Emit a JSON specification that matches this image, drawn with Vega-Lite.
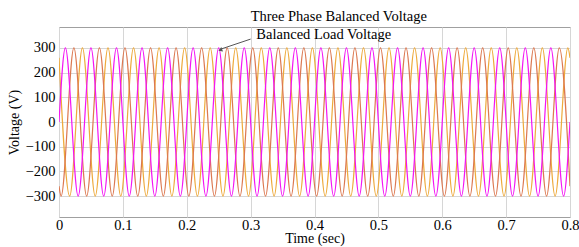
{
"$schema":"https://vega.github.io/schema/vega-lite/v6.json",
"width":511,"height":190,
"autosize":"none",
"padding":{"left":59,"top":27,"right":9,"bottom":30},
"config":{"font":"Liberation Serif","view":{"stroke":"#a0a0a0","strokeWidth":1},
"axis":{"grid":true,"gridColor":"#d6d6d6","domain":false,"ticks":false,"labelOverlap":false,"labelFont":"Liberation Serif","labelFontSize":14.5,"labelColor":"#000","titleFont":"Liberation Serif","titleFontSize":14,"titleFontWeight":"normal","titleColor":"#000"}},
"encoding":{
"x":{"field":"t","type":"quantitative","scale":{"domain":[0,0.8],"nice":false},"axis":{"values":[0,0.1,0.2,0.3,0.4,0.5,0.6,0.7,0.8],"format":".1~f","labelFlush":false,"labelOverlap":false,"labelPadding":1,"title":"Time (sec)","titlePadding":0}},
"y":{"field":"v","type":"quantitative","scale":{"domain":[-385,385],"nice":false,"zero":false},"axis":{"values":[-300,-200,-100,0,100,200,300],"labelOverlap":false,"labelFlush":false,"labelPadding":4,"title":"Voltage (V)","titlePadding":4}}
},
"layer":[
{"data":{"values":[
{"s":"a","t":0,"v":260},{"s":"a","t":0.0167,"v":-300},{"s":"a","t":0.0367,"v":300},{"s":"a","t":0.0567,"v":-300},{"s":"a","t":0.0767,"v":300},{"s":"a","t":0.0967,"v":-300},{"s":"a","t":0.1167,"v":300},{"s":"a","t":0.1367,"v":-300},{"s":"a","t":0.1567,"v":300},{"s":"a","t":0.1767,"v":-300},{"s":"a","t":0.1967,"v":300},{"s":"a","t":0.2167,"v":-300},{"s":"a","t":0.2367,"v":300},{"s":"a","t":0.2567,"v":-300},{"s":"a","t":0.2767,"v":300},{"s":"a","t":0.2967,"v":-300},{"s":"a","t":0.3167,"v":300},{"s":"a","t":0.3367,"v":-300},{"s":"a","t":0.3567,"v":300},{"s":"a","t":0.3767,"v":-300},{"s":"a","t":0.3967,"v":300},{"s":"a","t":0.4167,"v":-300},{"s":"a","t":0.4367,"v":300},{"s":"a","t":0.4567,"v":-300},{"s":"a","t":0.4767,"v":300},{"s":"a","t":0.4967,"v":-300},{"s":"a","t":0.5167,"v":300},{"s":"a","t":0.5367,"v":-300},{"s":"a","t":0.5567,"v":300},{"s":"a","t":0.5767,"v":-300},{"s":"a","t":0.5967,"v":300},{"s":"a","t":0.6167,"v":-300},{"s":"a","t":0.6367,"v":300},{"s":"a","t":0.6567,"v":-300},{"s":"a","t":0.6767,"v":300},{"s":"a","t":0.6967,"v":-300},{"s":"a","t":0.7167,"v":300},{"s":"a","t":0.7367,"v":-300},{"s":"a","t":0.7567,"v":300},{"s":"a","t":0.7767,"v":-300},{"s":"a","t":0.7967,"v":300},{"s":"a","t":0.8,"v":260},
{"s":"b","t":0,"v":-260},{"s":"b","t":0.0033,"v":-300},{"s":"b","t":0.0233,"v":300},{"s":"b","t":0.0433,"v":-300},{"s":"b","t":0.0633,"v":300},{"s":"b","t":0.0833,"v":-300},{"s":"b","t":0.1033,"v":300},{"s":"b","t":0.1233,"v":-300},{"s":"b","t":0.1433,"v":300},{"s":"b","t":0.1633,"v":-300},{"s":"b","t":0.1833,"v":300},{"s":"b","t":0.2033,"v":-300},{"s":"b","t":0.2233,"v":300},{"s":"b","t":0.2433,"v":-300},{"s":"b","t":0.2633,"v":300},{"s":"b","t":0.2833,"v":-300},{"s":"b","t":0.3033,"v":300},{"s":"b","t":0.3233,"v":-300},{"s":"b","t":0.3433,"v":300},{"s":"b","t":0.3633,"v":-300},{"s":"b","t":0.3833,"v":300},{"s":"b","t":0.4033,"v":-300},{"s":"b","t":0.4233,"v":300},{"s":"b","t":0.4433,"v":-300},{"s":"b","t":0.4633,"v":300},{"s":"b","t":0.4833,"v":-300},{"s":"b","t":0.5033,"v":300},{"s":"b","t":0.5233,"v":-300},{"s":"b","t":0.5433,"v":300},{"s":"b","t":0.5633,"v":-300},{"s":"b","t":0.5833,"v":300},{"s":"b","t":0.6033,"v":-300},{"s":"b","t":0.6233,"v":300},{"s":"b","t":0.6433,"v":-300},{"s":"b","t":0.6633,"v":300},{"s":"b","t":0.6833,"v":-300},{"s":"b","t":0.7033,"v":300},{"s":"b","t":0.7233,"v":-300},{"s":"b","t":0.7433,"v":300},{"s":"b","t":0.7633,"v":-300},{"s":"b","t":0.7833,"v":300},{"s":"b","t":0.8,"v":-260},
{"s":"c","t":0,"v":0},{"s":"c","t":0.01,"v":300},{"s":"c","t":0.03,"v":-300},{"s":"c","t":0.05,"v":300},{"s":"c","t":0.07,"v":-300},{"s":"c","t":0.09,"v":300},{"s":"c","t":0.11,"v":-300},{"s":"c","t":0.13,"v":300},{"s":"c","t":0.15,"v":-300},{"s":"c","t":0.17,"v":300},{"s":"c","t":0.19,"v":-300},{"s":"c","t":0.21,"v":300},{"s":"c","t":0.23,"v":-300},{"s":"c","t":0.25,"v":300},{"s":"c","t":0.27,"v":-300},{"s":"c","t":0.29,"v":300},{"s":"c","t":0.31,"v":-300},{"s":"c","t":0.33,"v":300},{"s":"c","t":0.35,"v":-300},{"s":"c","t":0.37,"v":300},{"s":"c","t":0.39,"v":-300},{"s":"c","t":0.41,"v":300},{"s":"c","t":0.43,"v":-300},{"s":"c","t":0.45,"v":300},{"s":"c","t":0.47,"v":-300},{"s":"c","t":0.49,"v":300},{"s":"c","t":0.51,"v":-300},{"s":"c","t":0.53,"v":300},{"s":"c","t":0.55,"v":-300},{"s":"c","t":0.57,"v":300},{"s":"c","t":0.59,"v":-300},{"s":"c","t":0.61,"v":300},{"s":"c","t":0.63,"v":-300},{"s":"c","t":0.65,"v":300},{"s":"c","t":0.67,"v":-300},{"s":"c","t":0.69,"v":300},{"s":"c","t":0.71,"v":-300},{"s":"c","t":0.73,"v":300},{"s":"c","t":0.75,"v":-300},{"s":"c","t":0.77,"v":300},{"s":"c","t":0.79,"v":-300},{"s":"c","t":0.8,"v":0}
]},
"mark":{"type":"line","interpolate":"monotone","strokeWidth":1.2,"clip":true},
"encoding":{
"color":{"field":"s","type":"nominal","scale":{"domain":["a","b","c"],"range":["#eeaa3c","#dc7850","#f414f4"]},"legend":null}
}},
{"data":{"values":[{"t":0.3,"v":409,"label":"Three Phase Balanced Voltage"},{"t":0.309,"v":336,"label":"Balanced Load Voltage"}]},
"mark":{"type":"text","align":"left","baseline":"alphabetic","fontSize":14.5,"font":"Liberation Serif","color":"#000"},
"encoding":{"text":{"field":"label"}}},
{"data":{"values":[{"t":0.3,"v":336,"t2":0.254,"v2":296}]},
"mark":{"type":"rule","color":"#555","strokeWidth":1},
"encoding":{"x2":{"field":"t2"},"y2":{"field":"v2"}}},
{"data":{"values":[{"t":0.2525,"v":292}]},
"mark":{"type":"point","shape":"triangle-left","filled":true,"size":22,"angle":339,"color":"#555","opacity":1},
"encoding":{}}
]
}
